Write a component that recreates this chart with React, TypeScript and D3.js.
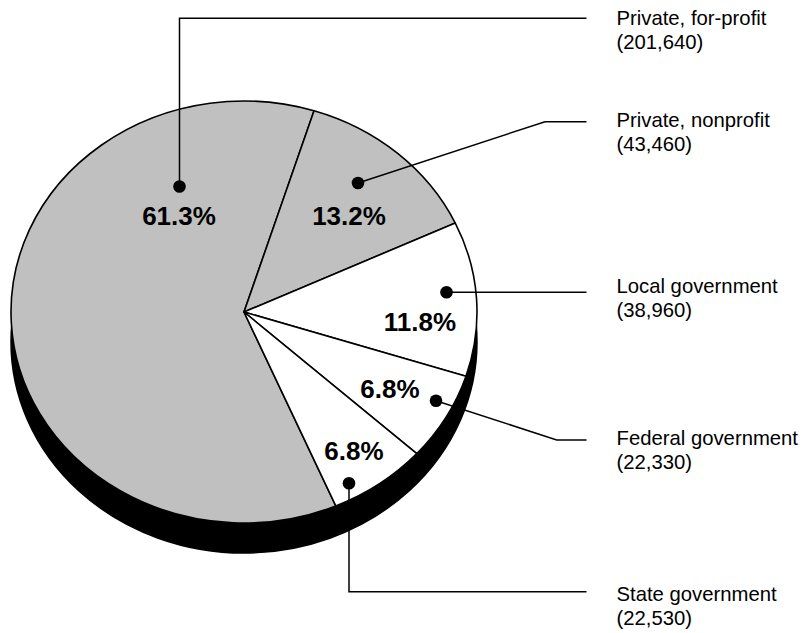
import React from "react";
import * as d3 from "d3";

// ---- data ----
const categories = [
  "Private, for-profit",
  "Private, nonprofit",
  "Local government",
  "Federal government",
  "State government",
];
const values = [201640, 43460, 38960, 22330, 22530];
const sliceFills = ["#c0c0c0", "#c0c0c0", "#ffffff", "#ffffff", "#ffffff"];

// ---- layout (annotation placement) ----
const W = 807;
const H = 633;
const CX = 244;
const CY = 312;
const RX = 233;
const RY = 211;
const DEPTH = 30;
const START_DEG = 156.8;
const pctPos = [
  [179, 225],
  [349, 225],
  [420, 331],
  [390, 398],
  [354, 460],
];
const dotPos = [
  [179.5, 186.5],
  [358, 183],
  [446.5, 292.3],
  [436, 400.7],
  [349, 483.3],
];
const leaderBends = [
  [[179.5, 18.3]],
  [[545, 121.7]],
  [],
  [[556.7, 440]],
  [[349, 591.7]],
];
const leaderEndY = [18.3, 121.7, 292.3, 440, 591.7];
const leaderEndX = 586.5;
const labelX = 616.5;
const labelBaseY = [25, 127.3, 292.7, 445, 601];
const LINE_GAP = 24;

const FONT = "'Liberation Sans', Arial, Helvetica, sans-serif";

function pt(theta: number): [number, number] {
  return [CX + RX * Math.sin(theta), CY - RY * Math.cos(theta)];
}

export default function App() {
  const total = d3.sum(values);
  const start = (START_DEG * Math.PI) / 180;
  const pie = d3
    .pie<number>()
    .sort(null)
    .value((d) => d)
    .startAngle(start)
    .endAngle(start + 2 * Math.PI);
  const arcs = pie(values);
  const fmt = d3.format(",");

  const slicePath = (a0: number, a1: number) => {
    const [x0, y0] = pt(a0);
    const [x1, y1] = pt(a1);
    const large = a1 - a0 > Math.PI ? 1 : 0;
    return `M${CX},${CY}L${x0},${y0}A${RX},${RY} 0 ${large} 1 ${x1},${y1}Z`;
  };

  return (
    <svg
      width={W}
      height={H}
      viewBox={`0 0 ${W} ${H}`}
      style={{ position: "absolute", left: 0, top: 0, background: "#fff" }}
    >
      <rect x={0} y={0} width={W} height={H} fill="#fff" />
      {/* side / depth */}
      <g fill="#000" stroke="#000" strokeWidth={1.5}>
        <ellipse cx={CX} cy={CY + DEPTH} rx={RX} ry={RY} />
        <rect x={CX - RX} y={CY} width={2 * RX} height={DEPTH} strokeWidth={0} />
      </g>
      {/* top face */}
      <g stroke="#000" strokeWidth={1.6} strokeLinejoin="round">
        {arcs.map((a, i) => (
          <path key={i} d={slicePath(a.startAngle, a.endAngle)} fill={sliceFills[i]} />
        ))}
      </g>
      {/* leader lines */}
      <g fill="none" stroke="#000" strokeWidth={1.5}>
        {categories.map((c, i) => {
          const pts: [number, number][] = [
            dotPos[i] as [number, number],
            ...(leaderBends[i] as [number, number][]),
            [leaderEndX, leaderEndY[i]],
          ];
          return <path key={c} d={d3.line()(pts) || ""} />;
        })}
      </g>
      <g fill="#000">
        {dotPos.map((p, i) => (
          <circle key={i} cx={p[0]} cy={p[1]} r={6.3} />
        ))}
      </g>
      {/* percentages */}
      <g fontFamily={FONT} fontWeight="bold" fontSize={26} textAnchor="middle" fill="#000">
        {arcs.map((a, i) => (
          <text key={i} x={pctPos[i][0]} y={pctPos[i][1]}>
            {((a.value / total) * 100).toFixed(1)}%
          </text>
        ))}
      </g>
      {/* category labels */}
      <g fontFamily={FONT} fontSize={20.3} fill="#000">
        {categories.map((c, i) => (
          <text key={c} x={labelX} y={labelBaseY[i]}>
            <tspan x={labelX}>{c}</tspan>
            <tspan x={labelX} dy={LINE_GAP}>
              ({fmt(values[i])})
            </tspan>
          </text>
        ))}
      </g>
    </svg>
  );
}
